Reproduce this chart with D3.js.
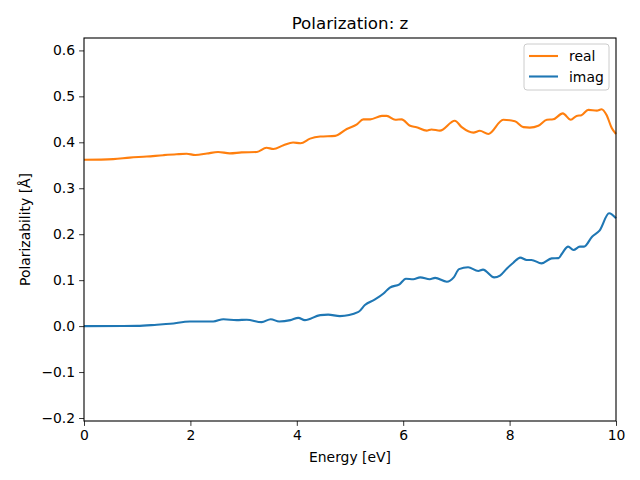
<!DOCTYPE html>
<html>
<head>
<meta charset="utf-8">
<style>
  body { margin: 0; background: #fff; }
  text { font-family: "DejaVu Sans", sans-serif; }
</style>
<script src="https://d3js.org/d3.v7.min.js"></script>
</head>
<body>
<div id="chart"></div>
<script>
// energy [eV] and polarizability values
var realE = [0, 0.55, 0.86, 1.18, 1.49, 1.74, 1.93, 2.09, 2.31, 2.52, 2.74, 2.96, 3.25, 3.43, 3.56, 3.75, 3.93, 4.07, 4.25, 4.44, 4.72, 4.94, 5.13, 5.25, 5.38, 5.60, 5.69, 5.85, 5.97, 6.13, 6.25, 6.44, 6.53, 6.69, 6.97, 7.10, 7.32, 7.44, 7.60, 7.88, 8.10, 8.26, 8.38, 8.54, 8.70, 8.82, 9.00, 9.15, 9.26, 9.35, 9.48, 9.64, 9.73, 9.82, 9.92, 10];
var realV = [0.362, 0.3635, 0.3667, 0.369, 0.372, 0.374, 0.375, 0.3725, 0.3755, 0.379, 0.376, 0.378, 0.379, 0.388, 0.3856, 0.3936, 0.3995, 0.398, 0.408, 0.4125, 0.414, 0.429, 0.439, 0.450, 0.450, 0.4575, 0.4575, 0.449, 0.450, 0.436, 0.433, 0.4255, 0.428, 0.4255, 0.447, 0.433, 0.421, 0.425, 0.418, 0.449, 0.446, 0.433, 0.432, 0.436, 0.449, 0.450, 0.463, 0.449, 0.4575, 0.459, 0.4706, 0.469, 0.472, 0.460, 0.431, 0.418];

var imagE = [0, 1.0, 1.37, 1.62, 1.99, 2.43, 2.62, 2.87, 3.06, 3.34, 3.51, 3.67, 3.88, 4.03, 4.15, 4.44, 4.59, 4.81, 5.16, 5.28, 5.47, 5.63, 5.75, 5.93, 6.05, 6.19, 6.32, 6.50, 6.60, 6.82, 6.95, 7.05, 7.22, 7.41, 7.50, 7.71, 7.82, 7.95, 8.07, 8.20, 8.32, 8.41, 8.60, 8.79, 8.92, 8.98, 9.10, 9.20, 9.32, 9.40, 9.55, 9.69, 9.87, 10];
var imagV = [0, 0.0005, 0.003, 0.005, 0.010, 0.010, 0.015, 0.013, 0.014, 0.0087, 0.015, 0.010, 0.013, 0.018, 0.013, 0.024, 0.025, 0.0218, 0.031, 0.0458, 0.058, 0.071, 0.084, 0.091, 0.103, 0.102, 0.106, 0.102, 0.105, 0.0966, 0.106, 0.124, 0.128, 0.120, 0.123, 0.106, 0.110, 0.1256, 0.138, 0.149, 0.144, 0.144, 0.1365, 0.1475, 0.148, 0.157, 0.173, 0.1656, 0.173, 0.173, 0.1946, 0.2077, 0.2455, 0.2346];

var xTicks = [0, 2, 4, 6, 8, 10];
var yTicks = [-0.2, -0.1, 0.0, 0.1, 0.2, 0.3, 0.4, 0.5, 0.6];

var width = 640, height = 480;
var mLeft = 84, mRight = 616, mTop = 38, mBottom = 421;

var svg = d3.select('#chart').append('svg')
    .attr('width', width)
    .attr('height', height);

var x = d3.scaleLinear().domain([0, 10]).range([mLeft, mRight]);
var y = d3.scaleLinear().domain([-0.2065, 0.627]).range([mBottom, mTop]);

var fmt = function(d) { return d3.format('.1f')(d).replace('-', '\u2212'); };

// axes
var xAxis = svg.append('g')
    .attr('transform', 'translate(0,' + mBottom + ')')
    .call(d3.axisBottom(x).tickValues(xTicks).tickFormat(d3.format('d')).tickSize(4.9).tickPadding(4));
var yAxis = svg.append('g')
    .attr('transform', 'translate(' + mLeft + ',0)')
    .call(d3.axisLeft(y).tickValues(yTicks).tickFormat(fmt).tickSize(4.9).tickPadding(4));

[xAxis, yAxis].forEach(function(a) {
  a.select('.domain').remove();
  a.selectAll('line').attr('stroke', '#000').attr('stroke-width', 0.8);
  a.selectAll('text').style('font-size', '13.9px').attr('fill', '#000');
});

// lines
var line = d3.line().curve(d3.curveMonotoneX)
    .x(function(d) { return x(d[0]); })
    .y(function(d) { return y(d[1]); });

svg.append('path')
    .datum(realE.map(function(e, i) { return [e, realV[i]]; }))
    .attr('d', line)
    .attr('fill', 'none')
    .attr('stroke', '#ff7f0e')
    .attr('stroke-width', 2.1);

svg.append('path')
    .datum(imagE.map(function(e, i) { return [e, imagV[i]]; }))
    .attr('d', line)
    .attr('fill', 'none')
    .attr('stroke', '#1f77b4')
    .attr('stroke-width', 2.1);

// frame
svg.append('rect')
    .attr('x', mLeft).attr('y', mTop)
    .attr('width', mRight - mLeft).attr('height', mBottom - mTop)
    .attr('fill', 'none').attr('stroke', '#000').attr('stroke-width', 1.1);

// title and labels
svg.append('text')
    .attr('x', (mLeft + mRight) / 2).attr('y', 29)
    .attr('text-anchor', 'middle')
    .style('font-size', '16.7px')
    .text('Polarization: z');

svg.append('text')
    .attr('x', (mLeft + mRight) / 2).attr('y', 462)
    .attr('text-anchor', 'middle')
    .style('font-size', '13.9px')
    .text('Energy [eV]');

svg.append('text')
    .attr('transform', 'translate(30,' + (mTop + mBottom) / 2 + ') rotate(-90)')
    .attr('text-anchor', 'middle')
    .style('font-size', '13.9px')
    .text('Polarizability [Å]');

// legend
var legend = svg.append('g');
legend.append('rect')
    .attr('x', 524).attr('y', 44)
    .attr('width', 85).attr('height', 46)
    .attr('rx', 3)
    .attr('fill', '#fff').attr('fill-opacity', 0.8)
    .attr('stroke', '#ccc');

var items = [['real', '#ff7f0e'], ['imag', '#1f77b4']];
items.forEach(function(it, i) {
  var yy = 56 + i * 20.5;
  legend.append('line')
    .attr('x1', 529).attr('x2', 558)
    .attr('y1', yy).attr('y2', yy)
    .attr('stroke', it[1]).attr('stroke-width', 2.1);
  legend.append('text')
    .attr('x', 569).attr('y', yy + 5)
    .style('font-size', '13.9px')
    .text(it[0]);
});
</script>
</body>
</html>
